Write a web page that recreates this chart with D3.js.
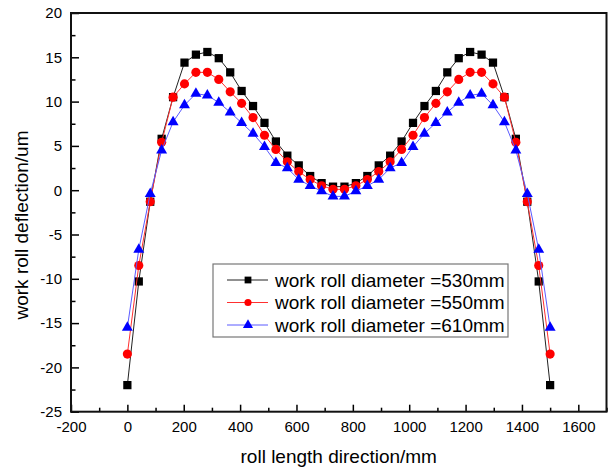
<!DOCTYPE html>
<html>
<head>
<meta charset="utf-8">
<script src="https://cdn.jsdelivr.net/npm/d3@7"></script>
<style>
  body { margin: 0; background: #fff; }
  text { font-family: "Liberation Sans", Arial, sans-serif; fill: #000; }
</style>
</head>
<body>
<div id="vis"></div>
<script>
// roll positions along the work roll (mm)
const positions = [0, 40.5, 81.1, 121.6, 162.2, 202.7, 243.2, 283.8, 324.3, 364.9,
  405.4, 445.9, 486.5, 527.0, 567.6, 608.1, 648.6, 689.2, 729.7, 770.3,
  810.8, 851.4, 891.9, 932.4, 973.0, 1013.5, 1054.1, 1094.6, 1135.1, 1175.7,
  1216.2, 1256.8, 1297.3, 1337.8, 1378.4, 1418.9, 1459.5, 1500];

// deflection (um) for each work roll diameter
const d530 = [-22.0, -10.3, -1.3, 5.8, 10.5, 14.4, 15.3, 15.6, 14.9, 13.3,
  11.2, 9.5, 7.6, 5.5, 3.9, 2.8, 1.6, 0.8, 0.4, 0.4,
  0.8, 1.6, 2.8, 3.9, 5.5, 7.6, 9.5, 11.2, 13.3, 14.9,
  15.6, 15.3, 14.4, 10.5, 5.8, -1.3, -10.3, -22.0];
const d550 = [-18.5, -8.5, -1.3, 5.4, 10.5, 12.0, 13.3, 13.3, 12.5, 11.1,
  9.8, 8.2, 6.2, 4.6, 3.2, 2.1, 1.2, 0.5, 0.1, 0.1,
  0.5, 1.2, 2.1, 3.2, 4.6, 6.2, 8.2, 9.8, 11.1, 12.5,
  13.3, 13.3, 12.0, 10.5, 5.4, -1.3, -8.5, -18.5];
const d610 = [-15.5, -6.7, -0.4, 4.5, 7.7, 9.6, 10.9, 10.7, 9.9, 8.8,
  7.6, 6.4, 4.9, 3.1, 2.5, 1.2, 0.5, -0.1, -0.7, -0.7,
  -0.1, 0.5, 1.2, 2.5, 3.1, 4.9, 6.4, 7.6, 8.8, 9.9,
  10.7, 10.9, 9.6, 7.7, 4.5, -0.4, -6.7, -15.5];

const seriesNames = ["work roll diameter =530mm", "work roll diameter =550mm", "work roll diameter =610mm"];
const xTicks = [-200, 0, 200, 400, 600, 800, 1000, 1200, 1400, 1600];
const xMinor = [-100, 100, 300, 500, 700, 900, 1100, 1300, 1500, 1700];
const yTicks = [-25, -20, -15, -10, -5, 0, 5, 10, 15, 20];
const yMinor = [-22.5, -17.5, -12.5, -7.5, -2.5, 2.5, 7.5, 12.5, 17.5];

width = 613;
height = 470;
margin = ({top: 13, right: 6.5, bottom: 58.3, left: 71});

let x = d3.scaleLinear()
    .domain([-200, 1700])
    .range([margin.left, width - margin.right]);
let y = d3.scaleLinear()
    .domain([-25, 20])
    .range([height - margin.bottom, margin.top]);

let svg = d3.select("#vis").append("svg")
    .attr("width", width).attr("height", height);

// plain labels with ascii hyphen, no thousands comma
let plain = d => String(d);

// axes, ticks pointing inward
svg.append("g")
    .attr("transform", `translate(0,${height - margin.bottom})`)
    .call(d3.axisBottom(x).tickValues(xTicks).tickFormat(plain).tickSizeInner(-7).tickSizeOuter(0).tickPadding(10))
    .call(g => g.select(".domain").remove());
svg.append("g")
    .attr("transform", `translate(0,${height - margin.bottom})`)
    .call(d3.axisBottom(x).tickValues(xMinor).tickSizeInner(-4).tickSizeOuter(0).tickFormat(""))
    .call(g => g.select(".domain").remove());

svg.append("g")
    .attr("transform", `translate(${margin.left},0)`)
    .call(d3.axisLeft(y).tickValues(yTicks).tickFormat(plain).tickSizeInner(-8).tickSizeOuter(0).tickPadding(9))
    .call(g => g.select(".domain").remove());
svg.append("g")
    .attr("transform", `translate(${margin.left},0)`)
    .call(d3.axisLeft(y).tickValues(yMinor).tickSizeInner(-4.5).tickSizeOuter(0).tickFormat(""))
    .call(g => g.select(".domain").remove());

svg.selectAll(".tick line").attr("stroke", "#000").attr("stroke-width", 1.5);
svg.selectAll(".tick text")
    .style("font-size", "15px")
    .style("font-family", "'Liberation Sans', Arial, sans-serif");

// plot frame
svg.append("rect")
    .attr("x", x(-200)).attr("y", y(20))
    .attr("width", x(1700) - x(-200)).attr("height", y(-25) - y(20))
    .attr("fill", "none").attr("stroke", "#111").attr("stroke-width", 2);

// series
const series = [
  {name: seriesNames[0], values: d530, line: "#222", fill: "#000", shape: d3.symbolSquare, size: 68, lsize: 46},
  {name: seriesNames[1], values: d550, line: "#ff3030", fill: "#ff0000", shape: d3.symbolCircle, size: 66, lsize: 40},
  {name: seriesNames[2], values: d610, line: "#5a5aff", fill: "#0000ff", shape: d3.symbolTriangle, size: 52, lsize: 44}
];

let line = d3.line()
    .x((d, i) => x(positions[i]))
    .y(d => y(d));

series.forEach(s => {
  svg.append("path")
      .datum(s.values)
      .attr("d", line)
      .attr("fill", "none")
      .attr("stroke", s.line)
      .attr("stroke-width", 1);
  svg.append("g").selectAll("path").data(s.values).enter().append("path")
      .attr("transform", (d, i) => `translate(${x(positions[i])},${y(d)})`)
      .attr("d", d3.symbol().type(s.shape).size(s.size))
      .attr("fill", s.fill);
});

// legend
let legend = svg.append("g");
legend.append("rect")
    .attr("x", 213).attr("y", 264).attr("width", 295).attr("height", 73)
    .attr("fill", "#fff").attr("stroke", "#777").attr("stroke-width", 1.2);
series.forEach((s, i) => {
  let ly = 280 + i * 22.5;
  legend.append("line")
      .attr("x1", 227).attr("x2", 268).attr("y1", ly).attr("y2", ly)
      .attr("stroke", s.line).attr("stroke-width", 1);
  legend.append("path")
      .attr("transform", `translate(248,${ly})`)
      .attr("d", d3.symbol().type(s.shape).size(s.lsize))
      .attr("fill", s.fill);
  legend.append("text")
      .attr("x", 275).attr("y", ly + 6.5)
      .style("font-size", "19px")
      .text(s.name);
});

// axis titles
svg.append("text")
    .attr("x", (x(-200) + x(1700)) / 2)
    .attr("y", 463)
    .style("text-anchor", "middle")
    .style("font-size", "19px")
    .text("roll length direction/mm");

svg.append("text")
    .attr("transform", "rotate(-90)")
    .attr("x", -225)
    .attr("y", 28)
    .style("text-anchor", "middle")
    .style("font-size", "19px")
    .text("work roll deflection/um");
</script>
</body>
</html>
